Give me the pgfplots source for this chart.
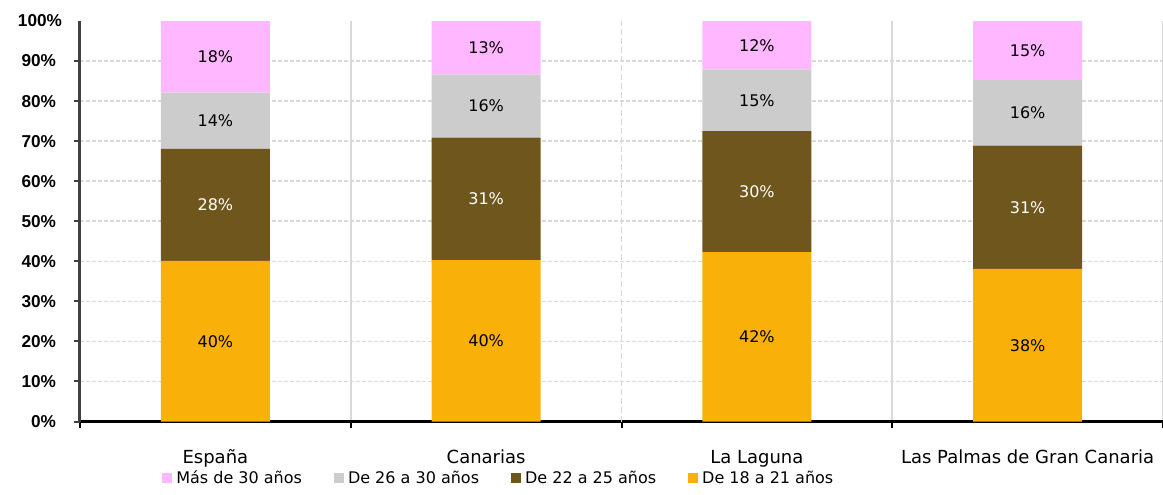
\documentclass[border=0pt]{standalone}
\usepackage{fontspec}
\setmainfont{DejaVu Sans}
\newfontfamily\arialfont{Liberation Sans}
\usepackage{pgfplots}
\usepackage{pgfplotstable}
\pgfplotsset{compat=1.18}

\definecolor{cpink}{HTML}{FFB8FF}
\definecolor{cgray}{HTML}{CCCCCC}
\definecolor{cbrown}{HTML}{6F561C}
\definecolor{cyellow}{HTML}{F9B109}
\definecolor{cgrid}{HTML}{D9D9D9}

% age groups per area, percent
\pgfplotstableread{
x a1821 a2225 a2630 a30
0 40.1 28.0 14.0 17.9
1 40.3 30.6 15.8 13.3
2 42.3 30.2 15.4 12.1
3 38.1 30.8 16.4 14.7
}\datatable

\pgfplotsset{sq legend/.style={legend image code/.code={\fill[##1] (0pt,-2.5pt) rectangle (5pt,2.5pt);}}}

\begin{document}
\begin{tikzpicture}
\begin{axis}[
  scale only axis, width=541.5pt, height=200.25pt,
  ybar stacked, bar width=54.5pt,
  xmin=-0.5, xmax=3.5, ymin=0, ymax=100,
  axis lines*=left,
  x axis line style={black, line width=1.5pt},
  y axis line style={black!75, line width=1.5pt},
  tick align=outside,
  major tick length=3pt, minor tick length=3pt,
  xtick={0,1,2,3},
  xticklabels={España, Canarias, La Laguna, Las Palmas de Gran Canaria},
  major x tick style={draw=none},
  minor xtick={-0.5,0.5,2.5,3.5},
  minor x tick style={draw=black, line width=1pt},
  xminorgrids,
  minor grid style={cgrid, line width=0.9pt},
  extra x ticks={1.5}, extra x tick labels={},
  extra x tick style={grid=major, major x tick style={draw=black, line width=1pt},
    major grid style={cgrid, line width=0.9pt, dash pattern=on 3pt off 1.5pt}},
  ytick={0,10,...,90},
  extra y ticks={100},
  extra y tick style={grid=none, major tick length=0pt},
  ytick style={draw=black!75, line width=1pt},
  ymajorgrids,
  major grid style={cgrid, line width=0.8pt, dash pattern=on 2pt off 1pt},
  /pgf/number format/assume math mode=true,
  yticklabel={\pgfmathprintnumber{\tick}\%},
  yticklabel style={font=\arialfont\bfseries\fontsize{8.6}{10}\selectfont, xshift=-5.5pt},
  xticklabel style={font=\fontsize{9}{10}\selectfont, anchor=base, yshift=-18pt},
  point meta=explicit,
  nodes near coords={\pgfmathprintnumber[fixed,precision=0]{\pgfplotspointmeta}\%},
  every node near coord/.append style={font=\fontsize{8}{9}\selectfont, anchor=center},
  legend columns=4,
  reverse legend,
  legend style={font=\fontsize{8}{9}\selectfont, draw=none, fill=none, inner sep=0pt,
    at={(axis description cs:0.0757,-0.142)}, anchor=west,
    /tikz/every even column/.append style={column sep=14pt},
    nodes={inner xsep=2pt}},
]
\addplot[fill=cyellow, draw=none, sq legend] table[x=x, y=a1821, meta=a1821] {\datatable};
\addplot[fill=cbrown, draw=none, sq legend, every node near coord/.append style={white}] table[x=x, y=a2225, meta=a2225] {\datatable};
\addplot[fill=cgray, draw=none, sq legend] table[x=x, y=a2630, meta=a2630] {\datatable};
\addplot[fill=cpink, draw=none, sq legend] table[x=x, y=a30, meta=a30] {\datatable};
\legend{De 18 a 21 años, De 22 a 25 años, De 26 a 30 años, Más de 30 años}
\node[font=\arialfont\bfseries\fontsize{12.75}{14}\selectfont, anchor=base]
  at (axis description cs:0.467,1) [yshift=8.25pt] {2010-2011};
\end{axis}
\pgfresetboundingbox
\path[use as bounding box] ([xshift=-40pt,yshift=-36.25pt]current axis.south west)
  rectangle ([yshift=10.5pt]current axis.north east);
\end{tikzpicture}
\end{document}
